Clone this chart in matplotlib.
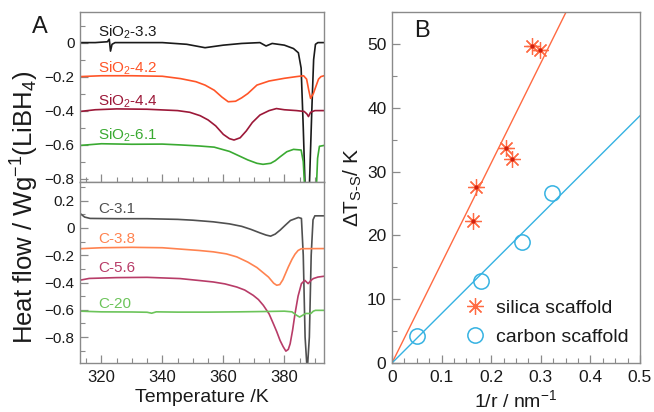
import matplotlib
matplotlib.use("Agg")
import matplotlib.pyplot as plt
from matplotlib.ticker import MultipleLocator
import numpy as np

plt.rcParams['font.family'] = ['Liberation Sans', 'DejaVu Sans']
plt.rcParams['mathtext.fontset'] = 'custom'
plt.rcParams['mathtext.rm'] = 'Liberation Sans'
plt.rcParams['mathtext.it'] = 'Liberation Sans:italic'
plt.rcParams['mathtext.default'] = 'regular'

# ---------------- Panel A data (DSC traces) ----------------
# silica scaffolds (top)
T_si33 = [313, 318, 322, 322.6, 323, 323.5, 324.5, 330, 340, 348, 354, 360, 366, 372, 374, 376, 380, 383,
          384.6, 385.5, 386.2, 386.8, 387.5, 388.2, 389, 389.6, 390.2, 391, 393]
y_si33 = [0.0, 0.0, 0.005, 0.02, -0.05, -0.01, 0.0, 0.0, 0.0, -0.01, -0.03, -0.015, -0.005, 0.0, -0.02, -0.005,
          -0.015, -0.035, -0.06, -0.15, -0.5, -0.85, -1.0, -0.85, -0.4, -0.1, -0.01, 0.0, 0.0]

T_si42 = [313, 320, 330, 340, 346, 351, 354, 357, 359.5, 361.6, 364, 366, 368, 371, 375, 380, 384, 386.3,
          387.3, 388, 388.6, 389.5, 390.3, 391.2, 392, 393]
y_si42 = [-0.2, -0.195, -0.195, -0.198, -0.212, -0.23, -0.25, -0.28, -0.32, -0.348, -0.345, -0.325, -0.3,
          -0.25, -0.226, -0.21, -0.2, -0.195, -0.215, -0.28, -0.328, -0.3, -0.26, -0.215, -0.2, -0.195]

T_si44 = [313, 318, 325, 335, 345, 349, 352.4, 355, 357.5, 360, 362, 363.5, 365.5, 367.5, 369.5, 372, 375,
          377.4, 380, 384, 386.5, 387.4, 387.9, 388.6, 390, 393]
y_si44 = [-0.405, -0.395, -0.39, -0.392, -0.4, -0.41, -0.43, -0.455, -0.49, -0.54, -0.565, -0.573, -0.56,
          -0.52, -0.47, -0.426, -0.4, -0.388, -0.395, -0.4, -0.405, -0.42, -0.435, -0.41, -0.4, -0.4]

T_si61 = [313, 320, 330, 340, 346, 352, 357, 362, 365, 368, 371, 373, 375.5, 377, 378.6, 380.8, 383, 385.5,
          386.2, 386.8, 387.5, 389.5, 390.4, 390.9, 391.5, 393]
y_si61 = [-0.605, -0.595, -0.598, -0.597, -0.602, -0.608, -0.615, -0.64, -0.665, -0.69, -0.71, -0.716, -0.71,
          -0.695, -0.672, -0.642, -0.628, -0.632, -0.7, -0.9, -1.0, -1.0, -0.9, -0.68, -0.61, -0.605]

# carbon scaffolds (bottom)
T_c31 = [313, 314.5, 316.3, 325, 335, 345, 350, 356.7, 362, 366, 369, 372, 374, 375.5, 377, 378.6, 380.3, 382,
         384.6, 385.6, 386.2, 386.8, 387.5, 388.2, 388.8, 389.4, 390, 393]
y_c31 = [0.107, 0.08, 0.07, 0.068, 0.068, 0.063, 0.057, 0.045, 0.03, 0.012, -0.01, -0.036, -0.052, -0.06,
         -0.045, -0.016, 0.02, 0.055, 0.077, 0.07, -0.2, -0.8, -1.05, -0.8, -0.2, 0.06, 0.089, 0.089]

T_c38 = [313, 320, 330, 340, 346, 352, 356.7, 361, 364.4, 368, 371, 374.8, 376.5, 377.5, 378.5, 379.5, 381.3,
         382.5, 383.5, 384.5, 385.6, 393]
y_c38 = [-0.152, -0.145, -0.142, -0.145, -0.155, -0.165, -0.175, -0.19, -0.212, -0.25, -0.29, -0.36, -0.405,
         -0.42, -0.415, -0.38, -0.286, -0.23, -0.192, -0.165, -0.152, -0.151]

T_c56 = [313, 316, 325, 335, 345.8, 352, 356.7, 360.5, 364.4, 367, 369.8, 371.5, 373.1, 375, 376.4, 377.5,
         378.6, 379.6, 380.5, 381.3, 381.9, 382.7, 383.5, 384.5, 385.6, 386.7, 387.8, 388.7, 389.5, 391, 393]
y_c56 = [-0.383, -0.37, -0.364, -0.362, -0.371, -0.385, -0.396, -0.41, -0.433, -0.455, -0.494, -0.525, -0.567,
         -0.63, -0.702, -0.76, -0.825, -0.87, -0.903, -0.89, -0.849, -0.75, -0.628, -0.5, -0.408, -0.384,
         -0.408, -0.385, -0.371, -0.36, -0.354]

T_c20 = [313, 320, 330, 335, 336.5, 338, 345, 355, 365, 375, 380, 382.5, 384, 385, 386, 387, 388.7, 389.5,
         390.2, 393]
y_c20 = [-0.61, -0.615, -0.616, -0.618, -0.625, -0.615, -0.617, -0.617, -0.615, -0.612, -0.61, -0.615, -0.64,
         -0.653, -0.64, -0.627, -0.627, -0.61, -0.604, -0.604]

top_labels = ['SiO$_2$-3.3', 'SiO$_2$-4.2', 'SiO$_2$-4.4', 'SiO$_2$-6.1']
top_label_y = [0.062, -0.151, -0.348, -0.543]
bot_labels = ['C-3.1', 'C-3.8', 'C-5.6', 'C-20']
bot_label_y = [0.136, -0.084, -0.29, -0.56]

top_yticks = [0, -0.2, -0.4, -0.6, -0.8]
top_yticklabels = ['0', '\u22120.2', '\u22120.4', '\u22120.6', '\u22120.8']
bot_yticks = [0.2, 0, -0.2, -0.4, -0.6, -0.8]
bot_yticklabels = ['0.2', '0', '\u22120.2', '\u22120.4', '\u22120.6', '\u22120.8']
bot_xticks = [320, 340, 360, 380]

top_colors = ['#1a1a1a', '#ff5528', '#9c1838', '#3aaa32']
bot_colors = ['#505050', '#ff8350', '#b83c68', '#6cc45a']

# ---------------- Panel B data ----------------
silica_x = [0.164, 0.169, 0.229, 0.242, 0.282, 0.298]
silica_y = [22.3, 27.6, 33.7, 32.0, 49.7, 49.0]
silica_xerr = [0.008, 0.010, 0.010, 0.008, 0.012, 0.014]
carbon_x = [0.051, 0.179, 0.263, 0.323]
carbon_y = [4.2, 12.9, 18.9, 26.7]
silica_slope = 156.7
carbon_slope = 77.5
fit_x = [0.0, 0.5]
b_xticks = [0, 0.1, 0.2, 0.3, 0.4, 0.5]
b_xticklabels = ['0', '0.1', '0.2', '0.3', '0.4', '0.5']
b_yticks = [0, 10, 20, 30, 40, 50]

silica_color = '#ff6a42'
carbon_color = '#35b2e2'
spine_color = '#8a8a8a'
text_color = '#1a1a1a'

W, H = 654, 412
fig = plt.figure(figsize=(W / 100, H / 100), dpi=100)


def frac(x0, y0, x1, y1):
    return [x0 / W, 1 - y1 / H, (x1 - x0) / W, (y1 - y0) / H]


ax_top = fig.add_axes(frac(80, 12, 324, 182))
ax_bot = fig.add_axes(frac(80, 182, 324, 363))
ax_b = fig.add_axes(frac(392, 12, 640, 363))


def style(ax):
    for s in ax.spines.values():
        s.set_color(spine_color)
        s.set_linewidth(1.0)
    ax.tick_params(which='both', direction='in', color=spine_color, labelcolor=text_color,
                   top=False, right=False)
    ax.tick_params(which='major', length=6, width=0.9)
    ax.tick_params(which='minor', length=3.5, width=0.8)


for ax in (ax_top, ax_bot, ax_b):
    style(ax)

# top panel
for T, y, c in zip([T_si33, T_si42, T_si44, T_si61], [y_si33, y_si42, y_si44, y_si61], top_colors):
    ax_top.plot(T, y, color=c, lw=1.2)
for lab, ly, c in zip(top_labels, top_label_y, top_colors):
    ax_top.text(319, ly, lab, color=c, fontsize=11, va='center', ha='left')
ax_top.set_xlim(313, 393)
ax_top.set_ylim(-0.82, 0.18)
ax_top.set_yticks(top_yticks)
ax_top.set_yticklabels(top_yticklabels)
ax_top.yaxis.set_minor_locator(MultipleLocator(0.1))
ax_top.xaxis.set_major_locator(MultipleLocator(20))
ax_top.xaxis.set_minor_locator(MultipleLocator(5))
ax_top.tick_params(axis='x', labelbottom=False)
ax_top.tick_params(axis='y', labelsize=11, pad=4)

# bottom panel
for T, y, c in zip([T_c31, T_c38, T_c56, T_c20], [y_c31, y_c38, y_c56, y_c20], bot_colors):
    ax_bot.plot(T, y, color=c, lw=1.2)
for lab, ly, c in zip(bot_labels, bot_label_y, bot_colors):
    ax_bot.text(319, ly, lab, color=c, fontsize=11, va='center', ha='left')
ax_bot.set_xlim(313, 393)
ax_bot.set_ylim(-0.99, 0.337)
ax_bot.set_yticks(bot_yticks)
ax_bot.set_yticklabels(bot_yticklabels)
ax_bot.yaxis.set_minor_locator(MultipleLocator(0.1))
ax_bot.set_xticks(bot_xticks)
ax_bot.xaxis.set_minor_locator(MultipleLocator(5))
ax_bot.tick_params(axis='y', labelsize=11, pad=4)
ax_bot.tick_params(axis='x', labelsize=12, pad=5)
ax_bot.set_xlabel('Temperature /K', fontsize=14, color=text_color, labelpad=3)

fig.text(25 / W, 1 - 207 / H, 'Heat flow / Wg$^{-1}$(LiBH$_4$)', rotation=90, fontsize=18.5,
         ha='center', va='center', color=text_color)
fig.text(32 / W, 1 - 27 / H, 'A', fontsize=17, ha='left', va='center', color=text_color)

# panel B
fx = np.array(fit_x)
ax_b.plot(fx, silica_slope * fx, color=silica_color, lw=1.0)
ax_b.plot(fx, carbon_slope * fx, color=carbon_color, lw=1.0)
ax_b.errorbar(silica_x, silica_y, xerr=silica_xerr, fmt='none', ecolor=silica_color, elinewidth=1.0, capsize=0)
ax_b.plot(silica_x, silica_y, linestyle='none', marker=(8, 2, 0), ms=12, mew=0.9, color=silica_color,
          label='silica scaffold')
ax_b.plot(silica_x, silica_y, linestyle='none', marker='o', ms=2, color='#d02010')
ax_b.plot(carbon_x, carbon_y, linestyle='none', marker='o', ms=11, mfc='none', mew=1.1, color=carbon_color,
          label='carbon scaffold')
ax_b.set_xlim(0, 0.5)
ax_b.set_ylim(0, 55)
ax_b.set_xticks(b_xticks)
ax_b.set_xticklabels(b_xticklabels)
ax_b.xaxis.set_minor_locator(MultipleLocator(0.025))
ax_b.set_yticks(b_yticks)
ax_b.yaxis.set_minor_locator(MultipleLocator(5))
ax_b.tick_params(axis='both', labelsize=12.5)
ax_b.tick_params(axis='x', pad=5)
ax_b.tick_params(axis='y', pad=4)
ax_b.set_xlabel('1/r / nm$^{-1}$', fontsize=14, color=text_color, labelpad=3)
ax_b.set_ylabel('ΔT$_{S\u2010S}$/ K', fontsize=15, color=text_color, labelpad=2)
ax_b.text(0.045, 52, 'B', fontsize=17, ha='left', va='center', color=text_color)
leg = ax_b.legend(loc='lower right', bbox_to_anchor=(1.0, 0.015), frameon=False, fontsize=14,
                  handletextpad=0.45, labelspacing=0.6, handlelength=1.2, borderaxespad=0.2)
for t in leg.get_texts():
    t.set_color(text_color)

fig.savefig('out.png', dpi=100)
